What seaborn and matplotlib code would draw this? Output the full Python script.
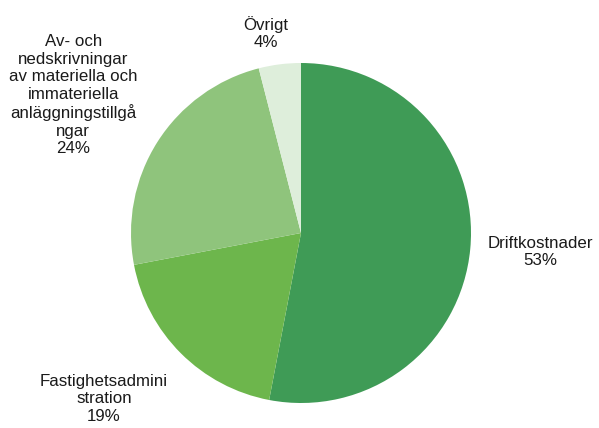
import matplotlib
matplotlib.use("Agg")
import matplotlib.pyplot as plt
import seaborn as sns

sns.set_style("white")
plt.rcParams['font.family'] = ['Liberation Sans', 'DejaVu Sans']

categories = ["Driftkostnader", "Fastighetsadmini\nstration",
              "Av- och\nnedskrivningar\nav materiella och\nimmateriella\nanläggningstillgå\nngar",
              "Övrigt"]
shares = [53, 19, 24, 4]
colors = ["#3f9b56", "#6db64c", "#8fc47c", "#deeedb"]

# label centres in data units (pie radius = 1)
label_pos = [(1.41, -0.11), (-1.16, -0.975), (-1.34, 0.81), (-0.205, 1.175)]

fig = plt.figure(figsize=(5.99, 4.28), dpi=100)
ax = fig.add_axes([(301 - 170) / 599, (195 - 171) / 428, 340 / 599, 342 / 428])

wedges, _ = ax.pie(shares, colors=colors, startangle=90, counterclock=False,
                   radius=1, wedgeprops=dict(linewidth=0))

for name, val, (x, y) in zip(categories, shares, label_pos):
    ax.text(x, y, f"{name}\n{val}%", ha="center", va="center",
            fontsize=12.2, color="#1a1a1a", linespacing=1.2, clip_on=False)

ax.set_xlim(-1, 1)
ax.set_ylim(-1, 1)
ax.set_aspect("equal")
ax.axis("off")

fig.savefig("out.png", dpi=100)
